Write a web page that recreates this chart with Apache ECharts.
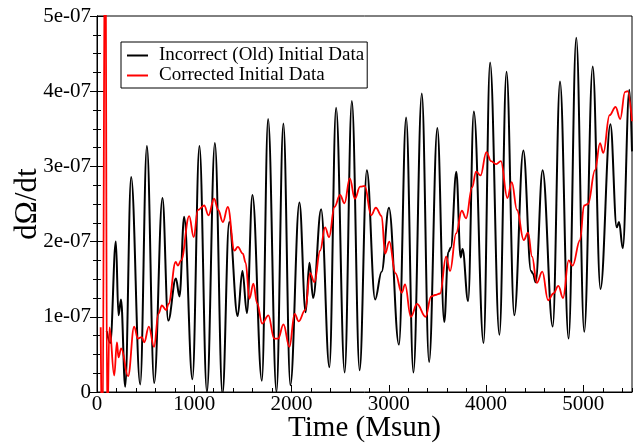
<!DOCTYPE html>
<html>
<head>
<meta charset="utf-8">
<script src="https://cdn.jsdelivr.net/npm/echarts@6/dist/echarts.min.js"></script>
<style>html,body{margin:0;padding:0;background:#fff;}#c{width:641px;height:443px;}</style>
</head>
<body>
<div id="c"></div>
<script>
// Time values (Msun) and dOmega/dt values in units of 1e-7
const blackT = [100,136,194,221,247,290,351,444,513,588,673,732,811,848,896,981,1053,1130,1212,1290,1359,1446,1495,1541,1598,1695,1759,1845,1916,1988,2081,2145,2184,2222,2304,2389,2458,2546,2620,2700,2774,2859,2926,3001,3104,3178,3253,3339,3414,3499,3570,3611,3638,3694,3738,3758,3815,3874,3974,4041,4137,4210,4290,4383,4462,4483,4509,4581,4685,4760,4848,4927,5009,5096,5176,5278,5343,5367,5405,5473,5500];
const blackV = [0.81,0.65,2.00,1.02,1.23,0.07,2.86,0.10,3.27,0.12,2.58,0.95,1.51,1.27,2.33,0.17,3.27,0.00,3.31,-0.03,2.26,1.01,1.61,1.05,2.62,0.15,3.63,0.00,3.57,0.09,2.52,1.06,1.72,1.25,2.43,0.33,3.78,0.26,3.87,0.29,2.95,1.23,1.60,2.45,0.63,3.65,0.26,3.97,0.40,3.51,0.93,1.86,1.92,2.93,1.79,1.90,1.21,3.73,0.65,4.38,0.76,4.26,1.02,3.21,1.61,1.57,1.46,2.95,0.87,4.13,0.71,4.71,0.80,4.33,1.37,3.56,2.19,2.26,1.91,4.02,3.20];
const redT = [38,55,85,105,128,177,205,221,249,320,382,420,461,485,533,586,632,667,711,735,809,831,865,948,994,1037,1102,1146,1204,1246,1294,1345,1413,1448,1499,1528,1567,1608,1646,1698,1762,1821,1862,1917,1978,2032,2073,2140,2191,2235,2294,2345,2386,2441,2499,2544,2599,2651,2705,2753,2818,2867,2926,2962,3005,3068,3133,3167,3226,3290,3378,3435,3476,3527,3589,3630,3692,3750,3794,3856,3897,3943,4003,4051,4103,4152,4219,4264,4318,4387,4431,4473,4521,4578,4637,4692,4743,4791,4849,4889,4966,5007,5048,5120,5171,5205,5269,5331,5379,5428,5454,5500];
const redV = [0.86,-1.0,7.0,-0.5,0.86,0.22,0.66,0.46,0.58,0.21,0.87,0.71,0.73,0.66,0.87,0.60,1.04,1.15,1.09,1.17,1.73,1.68,1.75,2.34,2.06,2.42,2.48,2.35,2.57,2.42,2.26,2.46,1.88,1.93,1.84,1.72,1.24,1.44,1.18,0.91,1.02,0.71,0.71,0.90,0.60,1.04,0.94,1.09,1.58,1.46,1.88,2.19,2.06,2.46,2.62,2.51,2.84,2.57,2.73,2.74,2.35,2.45,2.34,1.84,2.00,1.58,1.32,1.43,1.00,1.17,1.00,1.27,1.29,1.31,1.80,1.61,2.11,2.41,2.31,2.72,2.93,2.88,3.19,3.07,3.03,3.07,2.58,2.79,2.42,2.02,2.12,1.80,1.45,1.60,1.22,1.31,1.41,1.25,1.75,1.68,2.02,2.48,2.50,2.95,3.31,3.18,3.68,3.79,3.63,3.99,4.00,3.60];
const seriesNames = ['Incorrect (Old) Initial Data', 'Corrected Initial Data'];
const xTitle = 'Time (Msun)';
const yTitle = 'dΩ/dt';

const zip = (a, b) => a.map((t, i) => [t, b[i]]);
const serif = 'Liberation Serif, Times New Roman, serif';

const chart = echarts.init(document.getElementById('c'), null, {renderer: 'canvas'});
chart.setOption({
  animation: false,
  backgroundColor: '#fff',
  grid: {left: 97, right: 9, top: 16, bottom: 51, outerBoundsMode: 'none', containLabel: false,
    show: true, borderColor: '#000', borderWidth: 1, backgroundColor: 'transparent'},
  legend: {
    left: 121, top: 42, orient: 'vertical',
    icon: 'rect', itemWidth: 21, itemHeight: 2, itemGap: 1,
    padding: [4, 3, 3, 6],
    borderColor: '#000', borderWidth: 1, backgroundColor: '#fff',
    textStyle: {fontFamily: serif, fontSize: 19, color: '#000', padding: [0, 0, 0, 6]},
    data: seriesNames
  },
  xAxis: [{
    type: 'value', min: 0, max: 5500, interval: 1000, position: 'bottom',
    name: xTitle, nameLocation: 'middle', nameGap: 22, nameMoveOverlap: false,
    nameTextStyle: {fontFamily: serif, fontSize: 29, color: '#000'},
    axisLine: {show: true, lineStyle: {color: '#000', width: 1}},
    axisTick: {show: true, inside: true, length: 7, lineStyle: {color: '#000'}},
    axisLabel: {fontFamily: serif, fontSize: 21, color: '#000', margin: 2, showMaxLabel: false,
      formatter: v => String(v)},
    splitLine: {show: false}
  }, {
    type: 'value', min: 0, max: 5500, interval: 200, position: 'bottom',
    axisLine: {show: false},
    axisTick: {show: true, inside: true, length: 4, lineStyle: {color: '#000'}},
    axisLabel: {show: false},
    splitLine: {show: false}
  }],
  yAxis: [{
    type: 'value', min: 0, max: 5, interval: 1, position: 'left',
    name: yTitle, nameLocation: 'middle', nameGap: 54, nameMoveOverlap: false,
    nameTextStyle: {fontFamily: serif, fontSize: 31, color: '#000'},
    axisLine: {show: true, lineStyle: {color: '#000', width: 1}},
    axisTick: {show: true, inside: true, length: 7, lineStyle: {color: '#000'}},
    minorTick: {show: true, splitNumber: 4, length: 4, lineStyle: {color: '#000'}},
    axisLabel: {fontFamily: serif, fontSize: 21, color: '#000', margin: 6,
      formatter: v => v === 0 ? '0' : v + 'e-07'},
    splitLine: {show: false}, minorSplitLine: {show: false}
  }, {
    type: 'value', min: 0, max: 5, interval: 1, position: 'right',
    axisLine: {show: true, lineStyle: {color: '#000', width: 1}},
    axisTick: {show: true, inside: true, length: 7, lineStyle: {color: '#000'}},
    minorTick: {show: true, splitNumber: 4, length: 4, lineStyle: {color: '#000'}},
    axisLabel: {show: false},
    splitLine: {show: false}, minorSplitLine: {show: false}
  }],
  series: [{
    name: seriesNames[0], type: 'line', data: zip(blackT, blackV),
    xAxisIndex: 0, yAxisIndex: 0,
    smooth: 0.38, smoothMonotone: 'x', showSymbol: false, symbol: 'none',
    lineStyle: {color: '#000', width: 2}, itemStyle: {color: '#000'}, clip: true
  }, {
    name: seriesNames[1], type: 'line', data: zip(redT, redV),
    xAxisIndex: 0, yAxisIndex: 0,
    smooth: 0.4, smoothMonotone: 'x', showSymbol: false, symbol: 'none',
    lineStyle: {color: '#ff0000', width: 1.8}, itemStyle: {color: '#ff0000'}, clip: true
  }]
});
</script>
</body>
</html>
